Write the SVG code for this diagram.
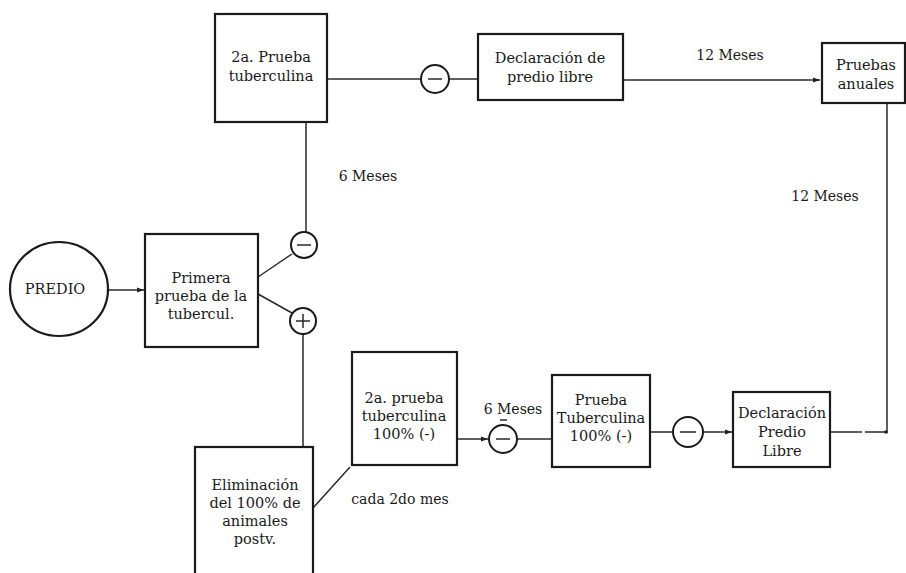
<svg xmlns="http://www.w3.org/2000/svg" width="906" height="573" viewBox="0 0 906 573">
<defs>
<marker id="ah" markerWidth="8" markerHeight="6" refX="7" refY="3" orient="auto" markerUnits="userSpaceOnUse">
<path d="M0,0.5 L7,3 L0,5.5 z" fill="#222"/>
</marker>
<style>
.box{fill:#fff;stroke:#1a1a1a;stroke-width:2.2}
.ln{fill:none;stroke:#2a2a2a;stroke-width:1.5}
.sg{fill:#fff;stroke:#1a1a1a;stroke-width:2}
.t{font-family:"DejaVu Serif","Liberation Serif",serif;font-size:14.5px;fill:#1a1a1a;text-anchor:middle}
.lb{font-family:"DejaVu Serif","Liberation Serif",serif;font-size:14px;fill:#1a1a1a;text-anchor:middle}
</style>
</defs>
<rect width="906" height="573" fill="#fff"/>
<g id="connectors">
<line class="ln" x1="108" y1="290" x2="144" y2="290" marker-end="url(#ah)"/>
<line class="ln" x1="258" y1="277" x2="292" y2="254"/>
<line class="ln" x1="258" y1="294" x2="292" y2="313"/>
<line class="ln" x1="306" y1="122" x2="306" y2="232"/>
<line class="ln" x1="303" y1="334" x2="303" y2="446"/>
<line class="ln" x1="327" y1="79" x2="421" y2="79"/>
<line class="ln" x1="449" y1="79" x2="478" y2="79"/>
<line class="ln" x1="623" y1="80" x2="820" y2="80" marker-end="url(#ah)"/>
<line class="ln" x1="887" y1="103" x2="887" y2="433"/>
<line class="ln" x1="313" y1="508" x2="350" y2="467"/>
<line class="ln" x1="457" y1="439" x2="488" y2="439" marker-end="url(#ah)"/>
<line class="ln" x1="517" y1="439" x2="552" y2="439"/>
<line class="ln" x1="650" y1="432" x2="673" y2="432"/>
<line class="ln" x1="703" y1="432" x2="732" y2="432" marker-end="url(#ah)"/>
<line class="ln" x1="830" y1="432" x2="887" y2="432" stroke-dasharray="32 3 30"/>
<circle cx="886" cy="432" r="1.8" fill="#222"/>
</g>
<g id="predio">
<ellipse class="box" cx="59" cy="289" rx="49" ry="47"/>
<text class="t" x="55" y="294">PREDIO</text>
</g>
<g id="primera">
<rect class="box" x="145" y="234" width="113" height="113"/>
<text class="t" x="201" y="283">Primera</text>
<text class="t" x="201" y="301">prueba de la</text>
<text class="t" x="201" y="319">tubercul.</text>
</g>
<g id="minus1">
<circle class="sg" cx="304" cy="245" r="13"/>
<line class="ln" x1="297" y1="245" x2="311" y2="245"/>
</g>
<g id="plus1">
<circle class="sg" cx="303" cy="321" r="13"/>
<line class="ln" x1="296" y1="321" x2="310" y2="321"/>
<line class="ln" x1="303" y1="314" x2="303" y2="328"/>
</g>
<g id="segunda">
<rect class="box" x="215" y="14" width="112" height="108"/>
<text class="t" x="271" y="62">2a. Prueba</text>
<text class="t" x="271" y="81">tuberculina</text>
</g>
<g id="minus2">
<circle class="sg" cx="435" cy="79" r="14"/>
<line class="ln" x1="428" y1="79" x2="442" y2="79"/>
</g>
<g id="declaracion1">
<rect class="box" x="478" y="34" width="145" height="66"/>
<text class="t" x="550" y="63">Declaración de</text>
<text class="t" x="550" y="82">predio libre</text>
</g>
<g id="pruebas-anuales">
<rect class="box" x="822" y="43" width="83" height="60"/>
<text class="t" x="866" y="70">Pruebas</text>
<text class="t" x="866" y="89">anuales</text>
</g>
<g id="eliminacion">
<rect class="box" x="195" y="447" width="118" height="130"/>
<text class="t" x="255" y="490">Eliminación</text>
<text class="t" x="255" y="508">del 100% de</text>
<text class="t" x="255" y="526">animales</text>
<text class="t" x="255" y="544">postv.</text>
</g>
<g id="segunda-b">
<rect class="box" x="352" y="352" width="105" height="113"/>
<text class="t" x="404" y="403">2a. prueba</text>
<text class="t" x="404" y="421">tuberculina</text>
<text class="t" x="404" y="439">100% (-)</text>
</g>
<g id="minus3">
<circle class="sg" cx="503" cy="439" r="14"/>
<line class="ln" x1="496" y1="439" x2="510" y2="439"/>
<line class="ln" x1="500" y1="420" x2="507" y2="420"/>
</g>
<g id="prueba-tb">
<rect class="box" x="552" y="375" width="98" height="92"/>
<text class="t" x="601" y="405">Prueba</text>
<text class="t" x="601" y="423">Tuberculina</text>
<text class="t" x="601" y="441">100% (-)</text>
</g>
<g id="minus4">
<circle class="sg" cx="688" cy="432" r="15"/>
<line class="ln" x1="680" y1="432" x2="696" y2="432"/>
</g>
<g id="declaracion2">
<rect class="box" x="733" y="392" width="97" height="75"/>
<text class="t" x="782" y="418">Declaración</text>
<text class="t" x="782" y="437">Predio</text>
<text class="t" x="782" y="456">Libre</text>
</g>
<g id="labels">
<text class="lb" x="368" y="181">6 Meses</text>
<text class="lb" x="730" y="60">12 Meses</text>
<text class="lb" x="825" y="201">12 Meses</text>
<text class="lb" x="513" y="414">6 Meses</text>
<text class="lb" x="400" y="504">cada 2do mes</text>
</g>
</svg>
